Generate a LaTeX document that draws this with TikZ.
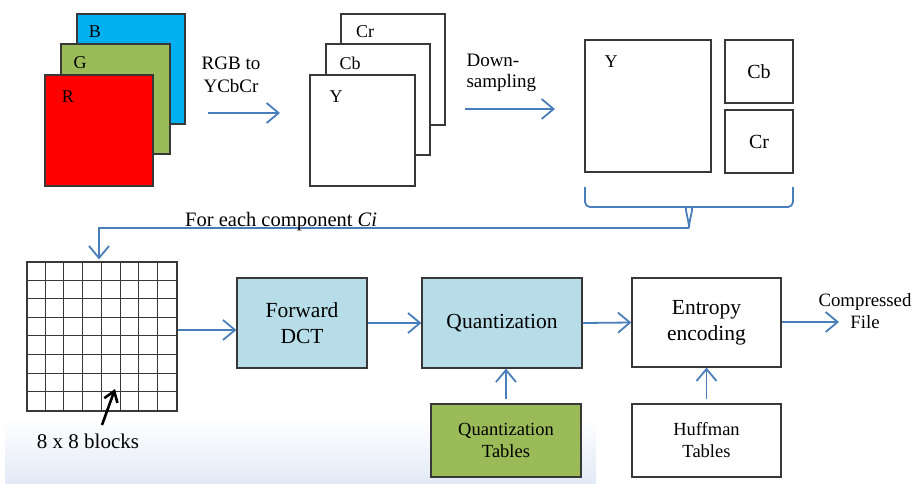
\documentclass[tikz,border=0pt]{standalone}
\usepackage{fontspec}
\setmainfont{Liberation Serif}
\usetikzlibrary{arrows.meta,shadings}
\definecolor{bcyan}{HTML}{00B0F0}
\definecolor{ggreen}{HTML}{9BBB59}
\definecolor{lblue}{HTML}{B7DDE8}
\definecolor{arrblue}{HTML}{4A7EBB}
\definecolor{edge}{HTML}{383838}
\definecolor{bgblue}{HTML}{E2E9F5}
\tikzset{
  plate/.style={draw=edge,line width=1.2pt,rectangle,inner sep=0pt},
  lbl/.style={inner sep=0pt,font=\fontsize{18}{22}\selectfont},
  boxtxt/.style={align=center,font=\fontsize{21.5}{26}\selectfont},
  smalltxt/.style={align=center,font=\fontsize{18.5}{22}\selectfont},
  arr/.style={draw=arrblue,line width=1.8pt,-{Straight Barb[length=12pt,width=20pt,line width=1.8pt]}},
  bigarr/.style={draw=black,line width=2.6pt,-{Straight Barb[length=10pt,width=14pt,line width=2.6pt]}},
  gridline/.style={draw=edge,line width=1pt},
  brace/.style={draw=arrblue,line width=1.8pt,rounded corners=5pt}
}
\begin{document}
\begin{tikzpicture}[x=1pt,y=-1pt]
\useasboundingbox (0,0) rectangle (912,484);
% background gradient
\shade[top color=white,bottom color=bgblue] (5,418) rectangle (596,484);
% RGB stack
\node[plate,fill=bcyan,minimum width=108pt,minimum height=110pt] (B) at (131,69) {};
\node[lbl] (Bl) at (95,32) {B};
\node[plate,fill=ggreen,minimum width=109pt,minimum height=110pt] (G) at (115.5,99) {};
\node[lbl] (Gl) at (80,63) {G};
\node[plate,fill=red,minimum width=108pt,minimum height=111pt] (R) at (99,130.5) {};
\node[lbl] (Rl) at (68,97) {R};
\node[align=center,font=\fontsize{19}{23}\selectfont] (rgbt) at (231,75) {RGB to\\YCbCr};
\coordinate (a1s) at (208,113);
\coordinate (a1e) at (280,113);
\draw[arr] (a1s) -- (a1e);
% YCbCr stack
\node[plate,fill=white,minimum width=104pt,minimum height=111pt] (Cr) at (393,69.5) {};
\node[lbl] (Crl) at (365,32) {Cr};
\node[plate,fill=white,minimum width=104pt,minimum height=111pt] (Cb) at (378,99.5) {};
\node[lbl] (Cbl) at (350,63) {Cb};
\node[plate,fill=white,minimum width=105pt,minimum height=111pt] (Y) at (362.5,130.5) {};
\node[lbl] (Yl) at (336,97) {Y};
\node[align=left,anchor=west,font=\fontsize{19}{21}\selectfont] (dst) at (463,73) {Down-\\sampling};
\coordinate (a2s) at (465,109);
\coordinate (a2e) at (555,109);
\draw[arr] (a2s) -- (a2e);
% downsampled
\node[plate,fill=white,minimum width=126pt,minimum height=132pt] (Yb) at (648,106) {};
\node[lbl] (Ybl) at (611,62) {Y};
\node[plate,fill=white,minimum width=68pt,minimum height=63pt,font=\fontsize{20}{24}\selectfont] (Cbs) at (759,71.5) {Cb};
\node[plate,fill=white,minimum width=68pt,minimum height=63pt,font=\fontsize{20}{24}\selectfont] (Crs) at (759,141.5) {Cr};
% brace
\coordinate (tip) at (689,228);
\draw[brace] (585,187) -- (585,207) -- (686,207) to[out=0,in=90] (tip);
\draw[brace] (793,187) -- (793,207) -- (692,207) to[out=180,in=90] (tip);
% grid
\node[plate,minimum width=150pt,minimum height=149pt] (grid) at (102,336.5) {};
\foreach \i in {1,...,7} {
  \draw[gridline] ([xshift=\i*18.75pt]grid.north west) -- ([xshift=\i*18.75pt]grid.south west);
  \draw[gridline] ([yshift=-\i*18.625pt]grid.north west) -- ([yshift=-\i*18.625pt]grid.north east);
}
\coordinate (gin) at ([xshift=-3pt,yshift=2pt]grid.north);
\draw[arr] (tip) -| (gin);
\node[anchor=base west,font=\fontsize{20.5}{24}\selectfont,inner sep=0pt] (fec) at (185,226) {For each component \textit{Ci}};
% 8x8 pointer
\node[font=\fontsize{21}{24}\selectfont] (blk) at (88,441) {8 x 8 blocks};
\coordinate (ptr) at (115,389);
\coordinate (ptrs) at (102,425);
\draw[bigarr] (ptrs) -- (ptr);
% pipeline boxes
\node[plate,fill=lblue,minimum width=130pt,minimum height=90pt,boxtxt] (DCT) at (302,323) {Forward\\DCT};
\node[plate,fill=lblue,minimum width=160pt,minimum height=90pt,boxtxt] (Q) at (502,323) {Quantization};
\node[plate,fill=white,minimum width=149pt,minimum height=89pt,boxtxt] (E) at (706.5,322.5) {Entropy\\encoding};
\node[plate,fill=ggreen,minimum width=150pt,minimum height=73pt,smalltxt] (QT) at (506,440.5) {Quantization\\Tables};
\node[plate,fill=white,minimum width=149pt,minimum height=73pt,smalltxt] (HT) at (706.5,440.5) {Huffman\\Tables};
\node[align=center,font=\fontsize{18.8}{22}\selectfont] (cf) at (865,311) {Compressed\\File};
\coordinate (g2d) at ([yshift=-7pt]DCT.west);
\draw[arr] (grid.east |- g2d) -- (g2d);
\draw[arr] (DCT.east) -- (Q.west);
\draw[arr] (Q.east) -- (E.west);
\coordinate (out) at (839,322);
\draw[arr] (E.east |- out) -- (out);
\draw[arr] ([yshift=4pt]QT.north) -- (QT.north |- Q.south);
\draw[arr] ([yshift=4pt]HT.north) -- (HT.north |- E.south);
\end{tikzpicture}
\end{document}
